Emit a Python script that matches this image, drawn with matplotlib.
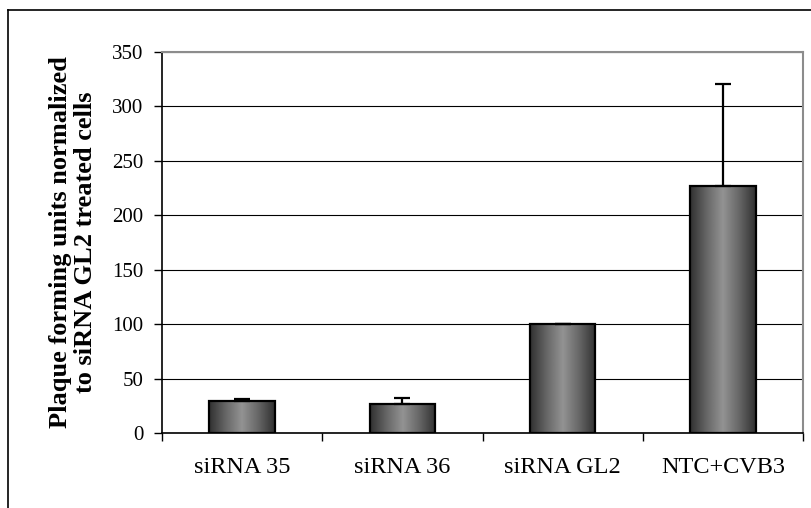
import matplotlib
matplotlib.use("Agg")
import matplotlib.pyplot as plt
import numpy as np
from matplotlib.colors import LinearSegmentedColormap
from matplotlib.lines import Line2D

categories = ["siRNA 35", "siRNA 36", "siRNA GL2", "NTC+CVB3"]
pfu_values = [29, 26.5, 100, 226.5]
pfu_err = [2, 6, 0, 94]
y_ticks = [0, 50, 100, 150, 200, 250, 300, 350]

plt.rcParams['font.family'] = ['Liberation Serif', 'DejaVu Serif']

fig = plt.figure(figsize=(8.11, 5.08), dpi=100)
ax = fig.add_axes([162 / 811, 75 / 508, 641 / 811, 381 / 508])

x = np.arange(len(categories))
bars = ax.bar(x, pfu_values, width=0.41, color="none", edgecolor="black",
              linewidth=1.6, zorder=3)

# cylinder-like shading, dark at the edges and light in the middle
shade = LinearSegmentedColormap.from_list(
    "shade", ["#303030", "#666666", "#939393", "#666666", "#303030"])
grad = np.linspace(0, 1, 256).reshape(1, -1)
for b in bars:
    x0, w, h = b.get_x(), b.get_width(), b.get_height()
    im = ax.imshow(grad, cmap=shade, aspect="auto", extent=(x0, x0 + w, 0, h),
                   zorder=2, interpolation="bicubic")
    im.set_clip_path(b)

ax.errorbar(x, pfu_values, yerr=[np.zeros(len(pfu_err)), pfu_err], fmt="none",
            ecolor="black", elinewidth=1.6, capsize=5.6, capthick=1.6, zorder=4)

ax.set_xlim(-0.5, len(categories) - 0.5)
ax.set_ylim(0, 350)
ax.set_yticks(y_ticks)
ax.set_yticklabels([str(t) for t in y_ticks], fontsize=15)
ax.set_xticks(x)
ax.set_xticklabels(categories, fontsize=17.5)
ax.set_xticks(np.arange(-0.5, len(categories)), minor=True)
ax.tick_params(axis="x", which="major", length=0, pad=17)
ax.tick_params(axis="x", which="minor", length=5.5, width=1, direction="out")
ax.tick_params(axis="y", length=5.5, width=1, direction="out", pad=8)

ax.yaxis.grid(True, color="black", linewidth=0.8, zorder=0)
ax.set_axisbelow(True)
for side in ["top", "right"]:
    ax.spines[side].set_color("#8c8c8c")
    ax.spines[side].set_linewidth(1.5)
for side in ["left", "bottom"]:
    ax.spines[side].set_color("black")
    ax.spines[side].set_linewidth(1.2)

ax.set_ylabel("Plaque forming units normalized\nto siRNA GL2 treated cells",
              fontsize=19, fontweight="bold", linespacing=1.1, labelpad=11)

# outer chart border (only top and left visible in the crop)
fig.add_artist(Line2D([8 / 811, 1], [1 - 10 / 508, 1 - 10 / 508],
                      color="black", linewidth=1.2, transform=fig.transFigure))
fig.add_artist(Line2D([8 / 811, 8 / 811], [0, 1 - 10 / 508],
                      color="black", linewidth=1.2, transform=fig.transFigure))

fig.savefig("out.png", dpi=100)
